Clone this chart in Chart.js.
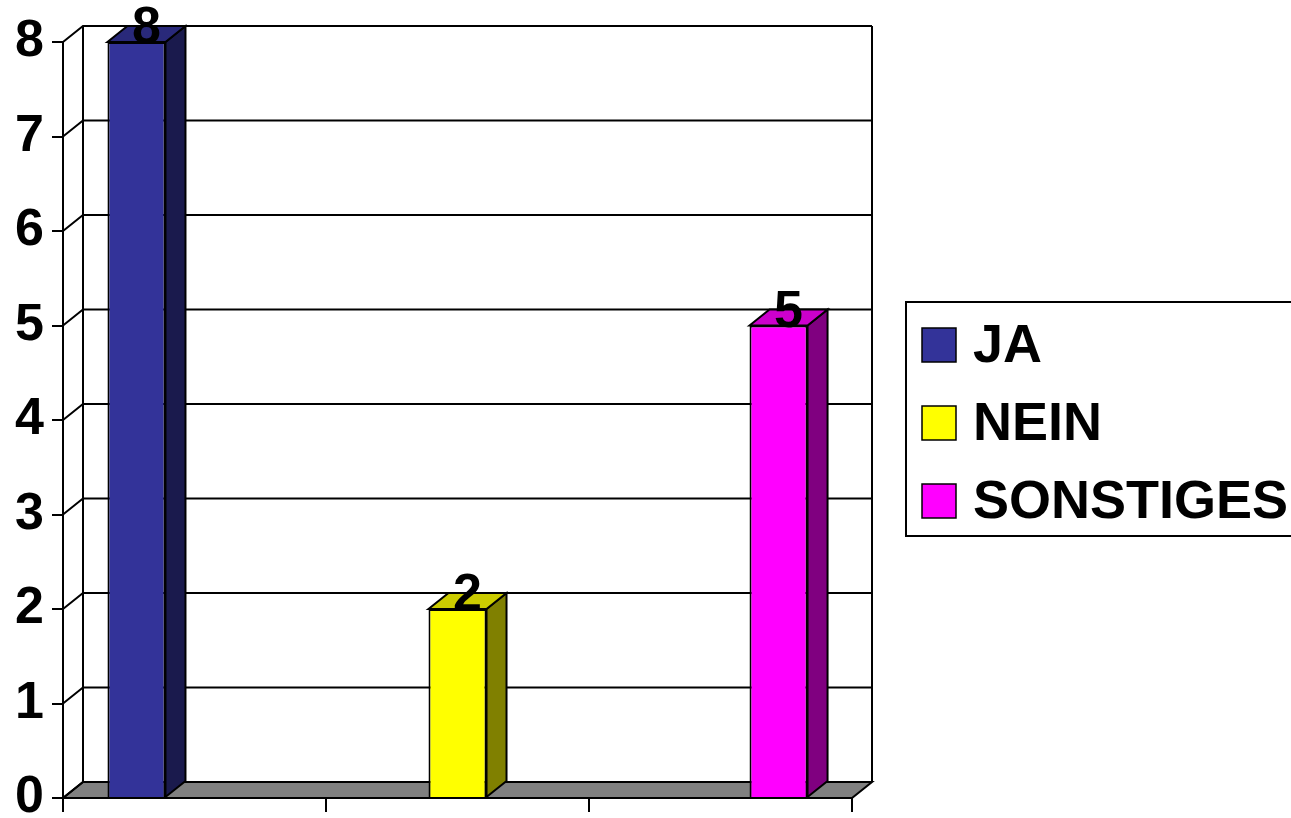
<!DOCTYPE html>
<html lang="de">
<head>
  <meta charset="UTF-8">
  <title>JA / NEIN / SONSTIGES</title>
  <script src="https://cdn.jsdelivr.net/npm/chart.js"></script>
  <style>
    html, body { margin: 0; padding: 0; background: #fff; overflow: hidden; }
    #chart { display: block; }
  </style>
</head>
<body>
  <canvas id="chart" width="1291" height="818"></canvas>

  <script>
    // Daten
    const categories = ['', '', ''];
    const seriesNames = ['JA', 'NEIN', 'SONSTIGES'];
    const jaValues = [8, null, null];
    const neinValues = [null, 2, null];
    const sonstigesValues = [null, null, 5];
    const yMin = 0;
    const yMax = 8;

    // Farben (Vorderseite, Deckel, Seite)
    const frontColors = ['#333399', '#FFFF00', '#FF00FF'];
    const topColors = ['#29297A', '#CCCC00', '#CC00CC'];
    const sideColors = ['#1A1A4D', '#808000', '#800080'];

    // 3D-Versatz der Rückwand
    const DX = 20;
    const DY = -16;
    const FONT = '"Liberation Sans", Arial, sans-serif';

    const threeD = {
      id: 'threeD',
      beforeDatasetsDraw(chart) {
        const { ctx, chartArea: a, scales: { y } } = chart;
        ctx.save();
        ctx.strokeStyle = '#000';
        ctx.lineWidth = 2;

        // Boden
        ctx.fillStyle = '#808080';
        ctx.beginPath();
        ctx.moveTo(a.left, a.bottom);
        ctx.lineTo(a.right, a.bottom);
        ctx.lineTo(a.right + DX, a.bottom + DY);
        ctx.lineTo(a.left + DX, a.bottom + DY);
        ctx.closePath();
        ctx.fill();
        ctx.stroke();

        // Gitterlinien an Seitenwand und Rückwand
        y.ticks.forEach(t => {
          const py = y.getPixelForValue(t.value);
          ctx.beginPath();
          ctx.moveTo(a.left, py);
          ctx.lineTo(a.left + DX, py + DY);
          ctx.lineTo(a.right + DX, py + DY);
          ctx.stroke();
        });

        // Kanten der Rückwand
        const topY = y.getPixelForValue(yMax) + DY;
        ctx.beginPath();
        ctx.moveTo(a.left + DX, topY);
        ctx.lineTo(a.left + DX, a.bottom + DY);
        ctx.moveTo(a.right + DX, topY);
        ctx.lineTo(a.right + DX, a.bottom + DY);
        ctx.stroke();
        ctx.restore();
      },
      afterDatasetsDraw(chart) {
        const { ctx } = chart;
        ctx.save();
        ctx.strokeStyle = '#000';
        ctx.lineWidth = 2;
        chart.data.datasets.forEach((ds, i) => {
          const meta = chart.getDatasetMeta(i);
          meta.data.forEach((bar, j) => {
            const v = ds.data[j];
            if (v === null || v === undefined) return;
            const p = bar.getProps(['x', 'y', 'base', 'width'], true);
            const l = p.x - p.width / 2;
            const r = p.x + p.width / 2;

            // Seite
            ctx.fillStyle = sideColors[i];
            ctx.beginPath();
            ctx.moveTo(r, p.y);
            ctx.lineTo(r + DX, p.y + DY);
            ctx.lineTo(r + DX, p.base + DY);
            ctx.lineTo(r, p.base);
            ctx.closePath();
            ctx.fill();
            ctx.stroke();

            // Deckel
            ctx.fillStyle = topColors[i];
            ctx.beginPath();
            ctx.moveTo(l, p.y);
            ctx.lineTo(l + DX, p.y + DY);
            ctx.lineTo(r + DX, p.y + DY);
            ctx.lineTo(r, p.y);
            ctx.closePath();
            ctx.fill();
            ctx.stroke();

            // Wert
            ctx.fillStyle = '#000';
            ctx.font = 'bold 52px ' + FONT;
            ctx.textAlign = 'center';
            ctx.textBaseline = 'middle';
            ctx.fillText(String(v), p.x + DX / 2, p.y + DY + 3);
          });
        });
        ctx.restore();
      },
      afterDraw(chart) {
        const { ctx, chartArea: a } = chart;
        ctx.save();
        ctx.strokeStyle = '#000';
        ctx.lineWidth = 2;

        // Achse nach unten verlängern
        ctx.beginPath();
        ctx.moveTo(a.left, a.bottom);
        ctx.lineTo(a.left, a.bottom + 14);
        ctx.stroke();

        // Legende
        ctx.strokeRect(906, 302, 420, 234);
        ctx.font = 'bold 54px ' + FONT;
        ctx.textAlign = 'left';
        ctx.textBaseline = 'middle';
        chart.data.datasets.forEach((ds, i) => {
          const top = 328 + i * 78;
          ctx.fillStyle = ds.backgroundColor;
          ctx.fillRect(922, top, 34, 34);
          ctx.lineWidth = 1.5;
          ctx.strokeRect(922, top, 34, 34);
          ctx.fillStyle = '#000';
          ctx.fillText(ds.label, 973, top + 19);
        });
        ctx.restore();
      }
    };

    const valueLists = [jaValues, neinValues, sonstigesValues];

    new Chart(document.getElementById('chart').getContext('2d'), {
      type: 'bar',
      data: {
        labels: categories,
        datasets: seriesNames.map((name, i) => ({
          label: name,
          data: valueLists[i],
          backgroundColor: frontColors[i],
          borderColor: '#000',
          borderWidth: 2,
          categoryPercentage: 0.662,
          barPercentage: 1.0
        }))
      },
      options: {
        responsive: false,
        animation: false,
        devicePixelRatio: 1,
        layout: { padding: { left: 0, top: 42, right: 439, bottom: 0 } },
        plugins: {
          legend: { display: false },
          tooltip: { enabled: false }
        },
        scales: {
          x: {
            ticks: { display: false },
            grid: {
              offset: true,
              drawOnChartArea: false,
              drawTicks: true,
              tickLength: 14,
              color: '#000',
              lineWidth: 2
            },
            border: { color: '#000', width: 2 },
            afterFit: s => {
              s.height = 20;
              s.paddingLeft = 0;
              s.paddingRight = 0;
            }
          },
          y: {
            min: yMin,
            max: yMax,
            ticks: {
              stepSize: 1,
              color: '#000',
              padding: 8,
              font: { family: FONT, size: 52, weight: 'bold' }
            },
            grid: {
              drawOnChartArea: false,
              drawTicks: true,
              tickLength: 11,
              color: '#000',
              lineWidth: 2
            },
            border: { color: '#000', width: 2 },
            afterFit: s => {
              s.width = 63;
              s.paddingTop = 0;
              s.paddingBottom = 0;
            }
          }
        }
      },
      plugins: [threeD]
    });
  </script>
</body>
</html>
